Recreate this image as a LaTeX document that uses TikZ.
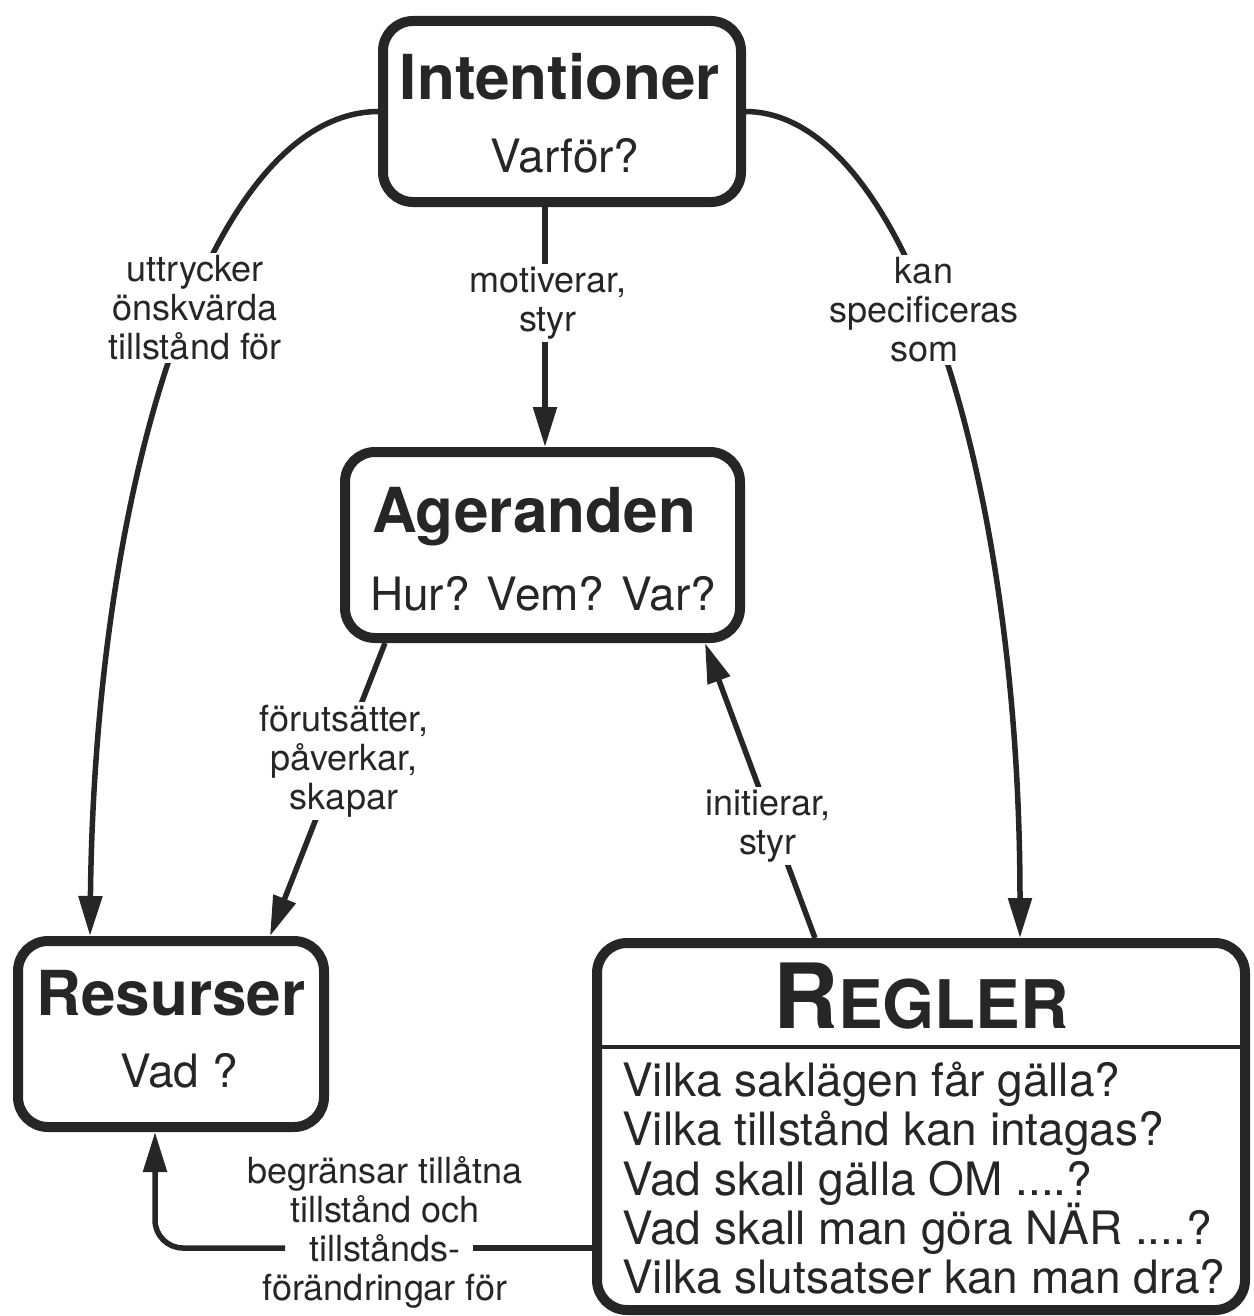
\documentclass[tikz,border=0pt]{standalone}
\usepackage{fontspec}
\setmainfont{TeX Gyre Heros}
\usetikzlibrary{arrows.meta,calc}
\definecolor{ink}{RGB}{38,38,38}
\begin{document}
\begin{tikzpicture}[x=1pt,y=-1pt,
  box/.style={draw=ink, line width=10pt, rounded corners=30pt, fill=white, inner sep=0pt},
  conn/.style={draw=ink, line width=5.5pt, -{Triangle[length=40pt,width=23pt]}},
  plain/.style={draw=ink, line width=5.5pt},
  lbl/.style={fill=white, text=ink, font=\fontsize{36}{39}\selectfont, align=center, inner sep=3pt},
  title/.style={text=ink, font=\bfseries\fontsize{62}{62}\selectfont, anchor=base, inner sep=0pt},
  sub/.style={text=ink, font=\fontsize{46}{46}\selectfont, anchor=base, inner sep=0pt},
  rule/.style={text=ink, font=\fontsize{46}{46}\selectfont, anchor=base west, inner sep=0pt},
]
\useasboundingbox (0,0) rectangle (1253,1316);

% boxes
\node[box, minimum width=358pt, minimum height=181pt] (int) at (562,111.5) {};
\node[box, minimum width=395pt, minimum height=186pt] (age) at (542.5,545) {};
\node[box, minimum width=306pt, minimum height=186pt] (res) at (171,1034) {};
\node[box, minimum width=648pt, minimum height=367pt] (reg) at (921,1126.5) {};

% box texts
\node[title] (intT) at (560,100) {Intentioner};
\node[sub] (intS) at (565,173) {Varför?};
\node[title] (ageT) at (534,532) {Ageranden};
\node[sub] (ageS) at (543,610) {Hur? Vem? Var?};
\node[title] (resT) at (171,1015) {Resurser};
\node[sub] (resS) at (179,1087) {Vad ?};

\node[anchor=base, text=ink, inner sep=0pt, font=\bfseries] (regT) at (921,1028)
  {\fontsize{90}{90}\selectfont R\fontsize{67}{67}\selectfont EGLER};
\draw[draw=ink, line width=4pt] (reg.west |- 0,1047) -- (reg.east |- 0,1047);
\node[rule] (q1) at (622,1096) {Vilka saklägen får gälla?};
\node[rule] (q2) at (622,1145.5) {Vilka tillstånd kan intagas?};
\node[rule] (q3) at (622,1195) {Vad skall gälla OM ....?};
\node[rule] (q4) at (622,1244.5) {Vad skall man göra NÄR ....?};
\node[rule] (q5) at (622,1293) {Vilka slutsatser kan man dra?};

% connectors
\draw[conn] (int.south -| 545,0) -- (age.north -| 545,0);
\draw[conn] (int.west) .. controls (210,113) and (95,480) .. (res.north -| 90,0);
\draw[conn] (int.east) .. controls (905,113) and (1020,480) .. (reg.north -| 1020,0);
\draw[conn] (age.south -| 385,0) -- (res.north -| 270,0);
\draw[conn] (reg.north -| 815,0) -- (age.south -| 705,0);

\coordinate (gapR) at (473,1248);
\coordinate (gapL) at (285,1248);
\draw[plain] (reg.west |- gapR) -- (gapR);
\draw[conn, rounded corners=28pt] (gapL) -| (res.south -| 155,0);

% connector labels
\node[lbl] (l1) at (548,303) {motiverar,\\styr};
\node[lbl] (l2) at (195,308) {uttrycker\\önskvärda\\tillstånd för};
\node[lbl] (l3) at (924,310) {kan\\specificeras\\som};
\node[lbl] (l4) at (344,761) {förutsätter,\\påverkar,\\skapar};
\node[lbl] (l5) at (768,826) {initierar,\\styr};
\node[lbl, fill=none] (l6) at (385,1232) {begränsar tillåtna\\tillstånd och\\tillstånds-\\förändringar för};
\end{tikzpicture}
\end{document}
